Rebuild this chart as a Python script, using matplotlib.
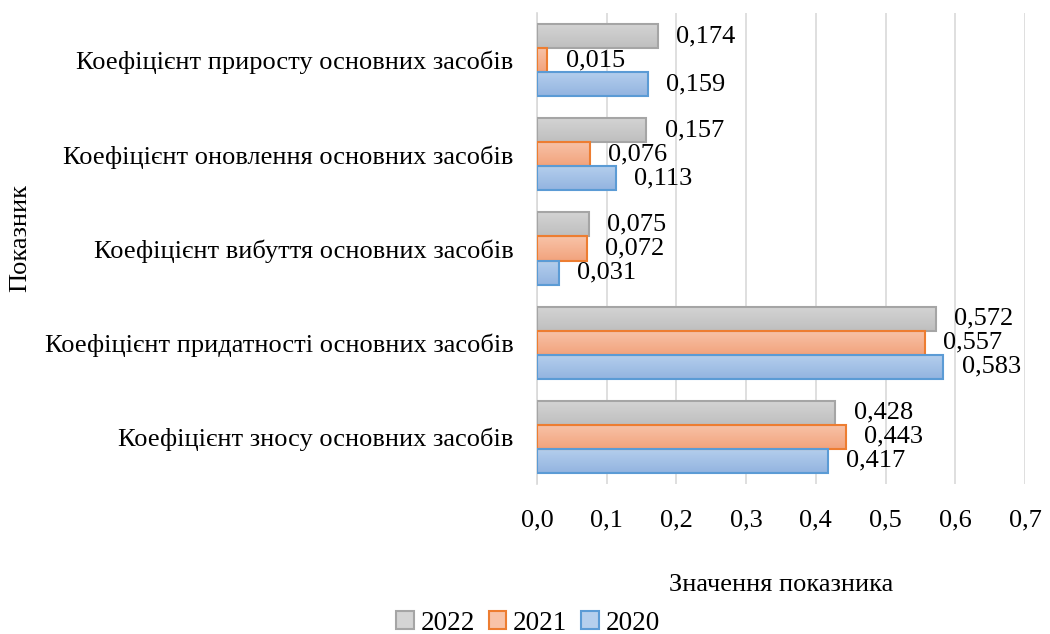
import numpy as np
import matplotlib.pyplot as plt
from matplotlib.colors import LinearSegmentedColormap
from matplotlib.patches import Patch
from matplotlib.ticker import FuncFormatter, MultipleLocator

plt.rcParams['font.family'] = ['Liberation Serif', 'DejaVu Serif']

categories = [
    'Коефіцієнт зносу основних засобів',
    'Коефіцієнт придатності основних засобів',
    'Коефіцієнт вибуття основних засобів',
    'Коефіцієнт оновлення основних засобів',
    'Коефіцієнт приросту основних засобів',
]
years = ['2022', '2021', '2020']
v2022 = [0.428, 0.572, 0.075, 0.157, 0.174]
v2021 = [0.443, 0.557, 0.072, 0.076, 0.015]
v2020 = [0.417, 0.583, 0.031, 0.113, 0.159]

# (top of gradient, bottom of gradient, edge)
styles = {
    '2022': ('#d4d4d4', '#bfbfbf', '#a5a5a5'),
    '2021': ('#f8c3a8', '#f2a37d', '#ed7d31'),
    '2020': ('#b5cfed', '#93b4e0', '#5b9bd5'),
}

fig = plt.figure(figsize=(10.5, 6.34), dpi=100)
ax = fig.add_axes([537 / 1050, 1 - 484 / 634, 488 / 1050, 471 / 634])

h = 0.255
y = np.arange(len(categories))
xmax = 0.7

grad = np.linspace(0, 1, 64).reshape(-1, 1)
for vals, year, off in [(v2022, '2022', h), (v2021, '2021', 0), (v2020, '2020', -h)]:
    top, bot, edge = styles[year]
    cmap = LinearSegmentedColormap.from_list(year, [top, bot])
    for yi, v in zip(y, vals):
        yc = yi + off
        ax.imshow(grad, cmap=cmap, aspect='auto', interpolation='bilinear',
                  extent=(0, v, yc - h / 2, yc + h / 2), origin='upper', zorder=2)
        ax.barh(yc, v, height=h, facecolor='none', edgecolor=edge,
                linewidth=1.5, zorder=3)
        ax.text(v + 0.026, yc, f'{v:.3f}'.replace('.', ','), va='center',
                ha='left', fontsize=19, zorder=4)

ax.set_xlim(0, xmax)
ax.set_ylim(-0.5, len(categories) - 0.5)

ax.xaxis.set_major_locator(MultipleLocator(0.1))
ax.xaxis.set_major_formatter(FuncFormatter(lambda x, p: f'{x:.1f}'.replace('.', ',')))
ax.set_yticks(y)
ax.set_yticklabels(categories, fontsize=19)
ax.tick_params(axis='x', labelsize=19, length=0, pad=18)
ax.tick_params(axis='y', length=0, pad=17)
ax.grid(axis='x', color='#d9d9d9', linewidth=1.2, zorder=0)
ax.set_axisbelow(True)
for s in ['top', 'right', 'bottom']:
    ax.spines[s].set_visible(False)
ax.spines['left'].set_color('#d9d9d9')
ax.spines['left'].set_linewidth(1.2)

ax.set_xlabel('Значення показника', fontsize=19, labelpad=31)
fig.text(20 / 1050, 1 - 238 / 634, 'Показник', rotation=90, fontsize=19,
         ha='center', va='center')

handles = [Patch(facecolor=styles[yr][0], edgecolor=styles[yr][2], linewidth=1.5)
           for yr in years]
fig.legend(handles, years, loc='center', bbox_to_anchor=(528 / 1050, 1 - 623 / 634),
           ncol=3, frameon=False, prop={'family': 'Liberation Serif', 'size': 19.5},
           handlelength=0.65, handleheight=0.65, handletextpad=0.25,
           columnspacing=0.5)

fig.savefig('out.png', dpi=100)
